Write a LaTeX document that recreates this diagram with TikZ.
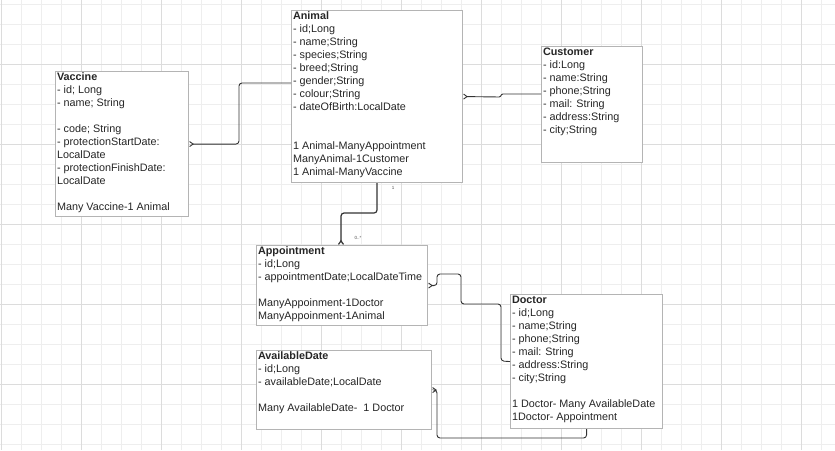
\documentclass[tikz,border=0pt]{standalone}
\usepackage{fontspec}
\setmainfont{Liberation Sans}
\usetikzlibrary{arrows.meta}
\definecolor{boxline}{HTML}{B4B4B4}
\definecolor{wireline}{HTML}{333333}
\definecolor{gridminor}{HTML}{EEEEEE}
\definecolor{gridmajor}{HTML}{DCDCDC}
\tikzset{
  % entity cards: text starts at the top left corner
  entity/.style={draw=boxline, fill=white, line width=1.1pt, anchor=north west,
    inner sep=1.5pt, text=black!85, font=\fontsize{10.8}{13}\selectfont},
  wire/.style={line width=0.9pt, wireline, rounded corners=3pt},
  manystart/.style={{Straight Barb[reversed,length=3.5pt,width=5pt]}-},
  manyend/.style={-{Straight Barb[reversed,length=3.5pt,width=5pt]}},
  tiny/.style={font=\fontsize{4.5}{5}\selectfont, text=black!70, inner sep=0pt}
}
\newcommand{\card}[3]{\begin{minipage}[t][#2pt][t]{#1pt}\raggedright#3\end{minipage}}

\begin{document}
\begin{tikzpicture}[x=1pt, y=-1pt]

\useasboundingbox (0,0) rectangle (835,450);
\fill[white] (0,0) rectangle (835,450);

% Grid
\foreach \x in {1,21,...,821} {
  \draw[gridminor, line width=0.8pt] (\x,0) -- (\x,450);
}
\foreach \y in {4,24,...,444} {
  \draw[gridminor, line width=0.8pt] (0,\y) -- (835,\y);
}
\foreach \x in {1,81,...,801} {
  \draw[gridmajor, line width=0.8pt] (\x,0) -- (\x,450);
}
\foreach \y in {64,144,...,384} {
  \draw[gridmajor, line width=0.8pt] (0,\y) -- (835,\y);
}

% Entities
\node[entity] (vaccine) at (55,71) {\card{130}{142}{\textbf{Vaccine}\\
- id; Long\\
- name; String\\[13pt]
- code; String\\
- protectionStartDate:\\
LocalDate\\
- protectionFinishDate:\\
LocalDate\\[13pt]
Many Vaccine-1 Animal}};

\node[entity] (animal) at (291,10) {\card{168}{169}{\textbf{Animal}\\
- id;Long\\
- name;String\\
- species;String\\
- breed;String\\
- gender;String\\
- colour;String\\
- dateOfBirth:LocalDate\\[26pt]
1 Animal-ManyAppointment\\
ManyAnimal-1Customer\\
1 Animal-ManyVaccine}};

\node[entity] (customer) at (541,46) {\card{98}{113}{\textbf{Customer}\\
- id:Long\\
- name:String\\
- phone;String\\
- mail: String\\
- address:String\\
- city;String}};

\node[entity] (appointment) at (256,245) {\card{168}{77}{\textbf{Appointment}\\
- id;Long\\
- appointmentDate;LocalDateTime\\[13pt]
ManyAppoinment-1Doctor\\
ManyAppoinment-1Animal}};

\node[entity] (doctor) at (510,294) {\card{149}{131}{\textbf{Doctor}\\
- id;Long\\
- name;String\\
- phone;String\\
- mail: String\\
- address:String\\
- city;String\\[13pt]
1 Doctor- Many AvailableDate\\
1Doctor- Appointment}};

\node[entity] (available) at (256,350) {\card{172}{76}{\textbf{AvailableDate}\\
- id;Long\\
- availableDate;LocalDate\\[13pt]
Many AvailableDate-~ 1 Doctor}};

% Connectors
\draw[wire, manystart] (vaccine.east) -| (239,83) -- (animal.west |- 0,83);
\draw[wire, manystart, rounded corners=0.8pt] (animal.east) -- (500,97) -- (502,94) -- (customer.west |- 0,94);
\draw[wire, manyend, line width=1.2pt] (animal.south) |- (341,213) -- (appointment.north -| 341,0);
\draw[wire, manystart] (appointment.east) -| (437,274) -| (461,304) -| (501,361) -- (doctor.west);
\draw[wire, manystart] (available.east) -| (437,438) -| (doctor.south);

% Multiplicity labels
\node[tiny] (onelabel) at (393,188) {1};
\node[tiny] (manylabel) at (358,238) {0..*};

\end{tikzpicture}
\end{document}
